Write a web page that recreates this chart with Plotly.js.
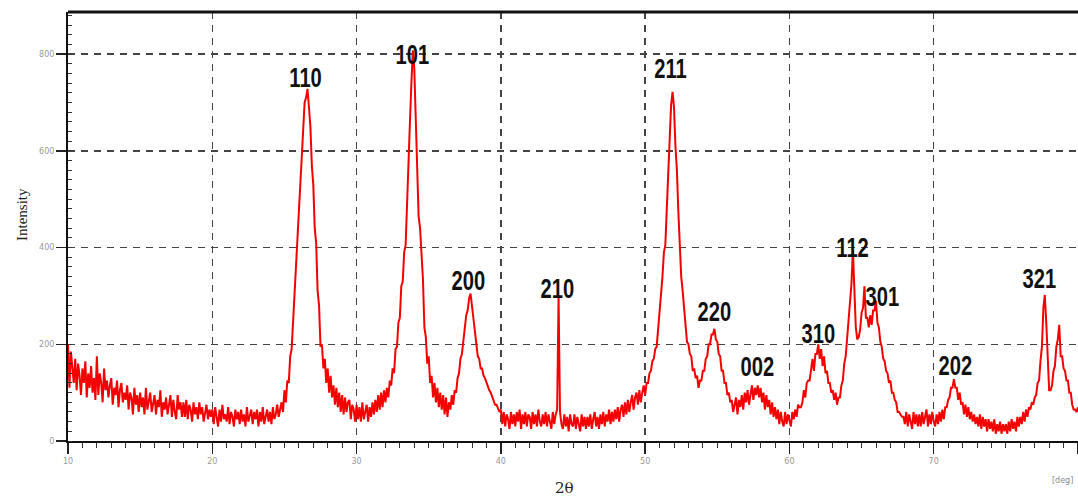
<!DOCTYPE html>
<html>
<head>
<meta charset="utf-8">
<script src="https://cdn.plot.ly/plotly-3.0.1.min.js"></script>
<style>html,body{margin:0;padding:0;background:#fff;}#chart{width:1078px;height:497px;}</style>
</head>
<body>
<div id="chart"></div>
<script>
// 2θ sampling: start 10.0°, step 0.1°, one value per step
const startAngle = 10.0;
const stepAngle = 0.1;

const intensity10to20 = [
  200,110,185,150,120,170,105,160,135,95,
  150,120,165,90,140,110,155,100,130,85,
  175,95,140,120,80,150,105,125,90,115,
  130,75,110,95,125,70,105,120,80,100,
  85,115,65,100,90,55,110,75,95,60,
  100,70,90,55,110,65,85,100,60,80,
  95,55,85,70,105,50,80,65,90,55,
  75,95,50,85,60,45,95,65,80,50,
  80,50,85,45,75,65,40,80,55,70,
  45,80,55,70,40,60,75,45,65,50
];
const intensity20to30 = [
  65,35,70,50,30,65,40,75,45,55,
  40,70,35,60,50,30,65,45,60,35,
  65,40,55,30,70,40,50,65,35,60,
  45,65,30,60,40,70,35,55,65,40,
  60,35,70,45,55,75,50,65,80,60,
  105,80,125,120,175,190,245,290,350,400,
  470,515,590,630,700,710,728,690,650,570,
  530,440,410,310,280,195,200,150,170,120,
  150,100,135,90,115,75,110,70,100,60,
  95,55,90,60,80,85,45,75,65,40
];
const intensity30to40 = [
  75,45,70,40,80,45,65,75,40,70,
  50,80,55,85,60,95,65,100,70,105,
  80,110,90,125,115,150,140,190,195,245,
  255,320,330,390,405,480,550,660,740,808,
  770,650,570,465,440,375,335,235,215,160,
  175,120,135,90,120,80,110,70,100,65,
  95,55,90,50,80,65,95,75,105,100,
  130,140,170,180,210,230,260,270,295,305,
  280,260,225,205,175,170,150,150,135,130,
  120,115,105,100,90,85,75,75,65,60
];
const intensity40to50 = [
  65,35,60,30,55,45,25,60,35,55,
  30,60,40,65,25,55,35,60,30,55,
  50,25,60,35,55,30,65,40,30,55,
  35,60,30,55,40,25,60,35,55,65,
  298,60,35,25,55,30,50,20,55,35,
  30,55,25,50,35,20,55,30,50,25,
  50,30,55,25,45,60,30,50,25,55,
  35,60,30,55,40,65,35,60,40,65,
  45,70,40,65,75,50,80,55,85,60,
  80,95,65,90,100,75,105,80,100,115
];
const intensity50to60 = [
  95,120,120,140,145,165,170,190,195,230,
  255,305,340,390,405,480,555,645,695,722,
  690,610,560,475,410,340,310,270,245,205,
  200,180,175,145,150,130,135,110,125,125,
  145,145,170,175,200,200,220,220,232,210,
  205,180,175,145,145,120,120,95,100,80,
  85,60,75,90,55,85,70,95,65,100,
  80,105,75,100,115,85,110,95,115,90,
  110,80,100,65,95,70,85,55,80,50,
  70,45,65,35,60,40,30,60,35,55
];
const intensity60to70 = [
  40,30,60,45,65,50,75,70,70,80,
  105,90,120,125,125,145,170,145,180,180,
  200,170,190,155,175,140,145,120,120,100,
  105,85,100,75,90,90,115,125,160,175,
  215,235,285,325,395,295,235,210,215,230,
  265,275,320,255,255,235,260,240,270,270,
  290,245,235,205,195,170,165,145,140,120,
  125,100,100,85,80,60,60,55,50,50,
  35,60,30,55,40,25,60,35,55,30,
  55,30,60,35,50,65,30,55,35,60
];
const intensity70to80 = [
  40,30,55,35,60,40,65,45,70,70,
  85,90,110,110,128,110,110,85,100,75,
  80,55,75,50,70,45,60,40,55,35,
  50,30,55,25,50,30,45,20,45,25,
  40,20,45,15,35,20,40,15,35,20,
  35,15,40,20,45,25,40,20,50,30,
  50,35,60,40,65,50,70,65,80,75,
  90,95,120,125,165,195,275,302,245,165,
  105,105,115,145,155,195,210,240,175,175,
  150,145,125,125,100,100,75,65,65,60,
  70
];

// Peak (hkl) labels and where they sit (2θ, intensity)
const peakLabels = ["110","101","200","210","211","220","002","310","112","301","202","321"];
const peakLabelX = [26.49, 33.85, 37.74, 43.92, 51.77, 54.83, 57.82, 61.98, 64.34, 66.43, 71.5, 77.33];
const peakLabelY = [752, 800, 331, 316, 771, 267, 155, 223, 401, 298, 157, 335];

const xTickVals = [10,20,30,40,50,60,70,80];
const yTickVals = [0,200,400,600,800];

const intensity = [].concat(intensity10to20, intensity20to30, intensity30to40,
  intensity40to50, intensity50to60, intensity60to70, intensity70to80);
const twoTheta = intensity.map((_, i) => +(startAngle + i * stepAngle).toFixed(1));

const trace = {
  x: twoTheta, y: intensity, type: 'scatter', mode: 'lines',
  line: {color: 'rgb(245,0,0)', width: 2}, hoverinfo: 'skip'
};

const labelFont = {family: '"Liberation Sans", Arial, sans-serif', size: 28, color: '#111', weight: 'bold'};
const annotations = peakLabels.map((t, i) => ({
  x: peakLabelX[i], y: peakLabelY[i], xref: 'x', yref: 'y', text: '<b>' + t + '</b>',
  showarrow: false, font: labelFont, xanchor: 'center', yanchor: 'middle'
}));
annotations.push(
  {x: 0.492, y: -0.11, xref: 'paper', yref: 'paper', text: '2θ', showarrow: false,
   font: {family: '"DejaVu Serif", "Liberation Serif", serif', size: 15, color: '#222'}, xanchor: 'center', yanchor: 'middle'},
  {x: -0.0455, y: 0.527, xref: 'paper', yref: 'paper', text: 'Intensity', showarrow: false, textangle: -90,
   font: {family: '"Liberation Serif", "DejaVu Serif", serif', size: 15, color: '#222'}, xanchor: 'center', yanchor: 'middle'},
  {x: 0.985, y: -0.091, xref: 'paper', yref: 'paper', text: '[deg]', showarrow: false,
   font: {family: '"DejaVu Sans", sans-serif', size: 8, color: '#888'}, xanchor: 'center', yanchor: 'middle'}
);

const layout = {
  width: 1078, height: 497,
  margin: {l: 68, r: 0, t: 12, b: 56},
  paper_bgcolor: '#fff', plot_bgcolor: '#fff',
  showlegend: false,
  xaxis: {
    range: [10, 80], tickvals: xTickVals, ticks: 'outside', ticklen: 11, tickwidth: 1.5, tickcolor: '#222',
    showline: true, linecolor: '#111', linewidth: 2,
    showgrid: true, gridcolor: '#444', gridwidth: 1.4, griddash: '7px,6px',
    zeroline: false, tickfont: {family: '"DejaVu Sans", sans-serif', size: 8, color: '#999'},
    minor: {dtick: 1, ticks: 'outside', ticklen: 5, tickcolor: '#333', tickwidth: 1, showgrid: false}
  },
  yaxis: {
    range: [0, 887], tickvals: yTickVals, ticks: 'outside', ticklen: 10, tickwidth: 1.5, tickcolor: '#222',
    showline: true, linecolor: '#111', linewidth: 2,
    showgrid: true, gridcolor: '#444', gridwidth: 1.4, griddash: '7px,6px',
    zeroline: false, tickfont: {family: '"DejaVu Sans", sans-serif', size: 8, color: '#999'},
    minor: {dtick: 20, ticks: 'inside', ticklen: 4, tickcolor: '#333', tickwidth: 1, showgrid: false}
  },
  shapes: [
    {type: 'line', xref: 'paper', yref: 'paper', x0: 0, x1: 1, y0: 1, y1: 1,
     line: {color: '#111', width: 3}}
  ],
  annotations: annotations
};

Plotly.newPlot('chart', [trace], layout, {staticPlot: true, displayModeBar: false}).then(() => {
  // narrow, tall peak-label lettering as in the original figure
  peakLabels.forEach((_, i) => {
    const t = document.querySelector('g.annotation[data-index="' + i + '"] text.annotation-text');
    if (t) {
      t.style.transformBox = 'fill-box';
      t.style.transformOrigin = 'center';
      t.style.transform = 'scale(0.72, 1)';
    }
  });
});
</script>
</body>
</html>
